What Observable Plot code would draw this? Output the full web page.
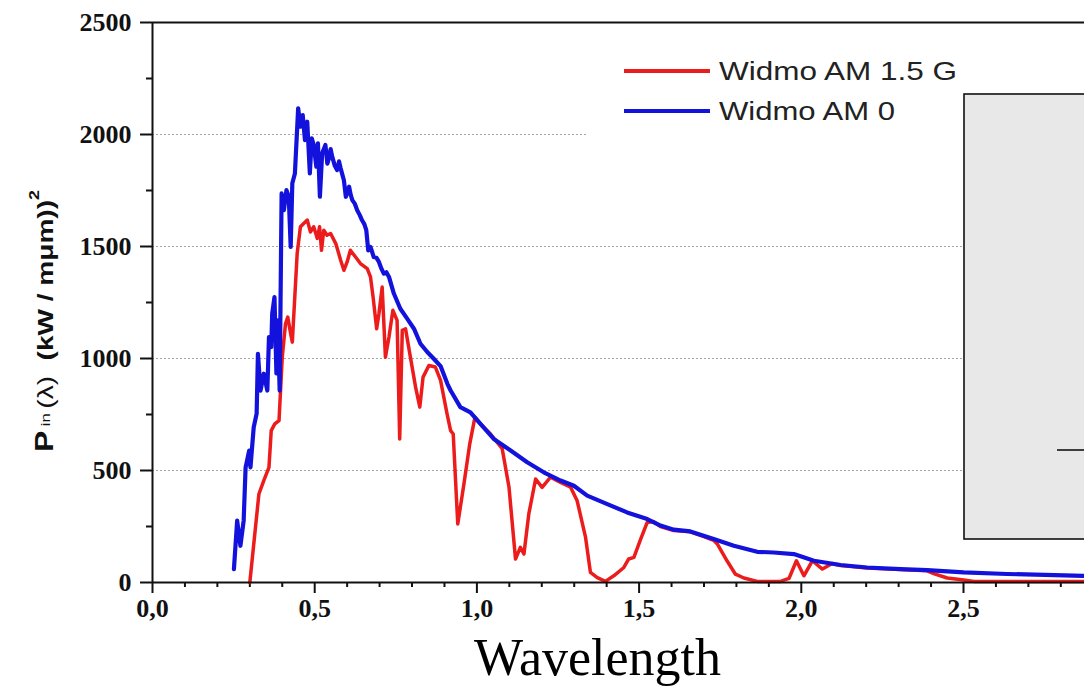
<!DOCTYPE html>
<html><head><meta charset="utf-8">
<script src="https://cdn.jsdelivr.net/npm/d3@7"></script>
<script src="https://cdn.jsdelivr.net/npm/@observablehq/plot@0.6"></script>
<style>body{margin:0;background:#fff} #chart{width:1084px;height:696px}</style>
</head><body><div id="chart"></div>
<script>
const seriesNames = ["Widmo AM 1.5 G", "Widmo AM 0"];
const seriesColors = ["#ec1c1c", "#1212dc"];

const am0Wavelength = [0.251,0.261,0.271,0.281,0.287,0.298,0.302,0.312,0.321,0.325,0.333,0.343,0.354,0.359,0.366,0.369,0.376,0.382,0.386,0.392,0.398,0.405,0.413,0.420,0.426,0.431,0.439,0.449,0.456,0.463,0.470,0.477,0.485,0.491,0.497,0.505,0.510,0.516,0.523,0.533,0.539,0.544,0.549,0.554,0.562,0.569,0.575,0.580,0.590,0.596,0.606,0.611,0.616,0.624,0.631,0.639,0.646,0.653,0.659,0.665,0.672,0.682,0.690,0.698,0.706,0.713,0.721,0.729,0.744,0.764,0.785,0.806,0.826,0.847,0.867,0.888,0.909,0.919,0.949,0.980,1.011,1.052,1.104,1.155,1.206,1.258,1.299,1.340,1.402,1.463,1.525,1.566,1.607,1.658,1.730,1.792,1.864,1.915,1.977,2.039,2.121,2.203,2.306,2.388,2.501,2.634,2.870];
const am0Power = [60,276,164,276,514,589,514,693,754,1021,857,932,857,1096,1051,1200,1274,933,1170,857,1737,1662,1752,1722,1498,1782,1826,2117,2035,2087,1975,2057,1826,1983,1953,1856,1961,1722,1916,1953,1870,1894,1935,1901,1860,1841,1880,1849,1796,1722,1767,1730,1707,1690,1662,1640,1617,1600,1573,1483,1498,1453,1450,1431,1400,1379,1385,1364,1290,1222,1178,1133,1066,1029,999,966,887,857,783,760,708,641,589,537,492,455,432,388,350,313,283,254,236,228,194,164,137,134,127,97,78,67,60,55,45,38,30];

const am15Wavelength = [0.300,0.328,0.343,0.359,0.366,0.377,0.390,0.400,0.410,0.417,0.424,0.431,0.446,0.456,0.466,0.477,0.487,0.497,0.508,0.515,0.521,0.528,0.538,0.549,0.565,0.580,0.590,0.600,0.610,0.626,0.641,0.662,0.672,0.680,0.691,0.698,0.708,0.718,0.729,0.741,0.754,0.762,0.770,0.780,0.795,0.811,0.824,0.834,0.852,0.872,0.888,0.908,0.919,0.927,0.941,0.960,0.978,0.994,1.011,1.042,1.078,1.099,1.119,1.134,1.145,1.160,1.181,1.201,1.227,1.258,1.289,1.309,1.335,1.350,1.371,1.396,1.422,1.453,1.468,1.484,1.504,1.525,1.545,1.566,1.607,1.658,1.700,1.730,1.741,1.771,1.797,1.823,1.864,1.936,1.962,1.985,2.008,2.034,2.065,2.095,2.121,2.203,2.306,2.388,2.408,2.450,2.501,2.532,2.870];
const am15Power = [0,395,455,514,678,708,723,1006,1155,1185,1126,1073,1469,1588,1603,1618,1565,1588,1536,1588,1483,1573,1550,1558,1513,1439,1394,1431,1483,1453,1424,1401,1364,1274,1133,1200,1319,1006,1096,1215,1170,641,1126,1133,1006,872,783,917,969,962,902,753,678,663,261,440,619,738,708,663,597,425,105,157,127,306,462,425,470,447,425,365,201,45,22,5,30,67,105,112,190,268,272,250,232,226,205,188,172,97,37,20,5,5,18,97,30,97,60,85,76,65,58,52,40,20,11,5,5];

const xTicks = [0, 0.5, 1.0, 1.5, 2.0, 2.5];
const xTickLabels = ["0,0", "0,5", "1,0", "1,5", "2,0", "2,5"];
const xMinorTicks = [0.1,0.2,0.3,0.4,0.6,0.7,0.8,0.9,1.1,1.2,1.3,1.4,1.6,1.7,1.8,1.9,2.1,2.2,2.3,2.4,2.6,2.7,2.8];
const yTicks = [0, 500, 1000, 1500, 2000, 2500];
const yMinorTicks = [250, 750, 1250, 1750, 2250];
const gridValues = [500, 1000, 1500, 2000];
const xLabel = "Wavelength";

const am15 = am15Wavelength.map((x, i) => ({x, y: am15Power[i]}));
const am0 = am0Wavelength.map((x, i) => ({x, y: am0Power[i]}));

const plot = Plot.plot({
  width: 1084, height: 696,
  marginLeft: 152, marginRight: 0, marginTop: 22, marginBottom: 114,
  style: {fontFamily: "Liberation Serif", fontSize: "26px", fontWeight: "bold", color: "#111", background: "#fff"},
  x: {domain: [0, 2.873]},
  y: {domain: [0, 2500]},
  marks: [
    Plot.ruleY(gridValues, {stroke: "#a8a8a8", strokeWidth: 1.2, strokeDasharray: "2,2"}),
    Plot.axisX({ticks: xTicks, tickFormat: (d, i) => xTickLabels[i], tickSize: 11, tickPadding: 5, strokeWidth: 2, label: null, stroke: "#111"}),
    Plot.axisX({ticks: xMinorTicks, tickFormat: () => "", tickSize: 5, strokeWidth: 2, label: null, stroke: "#111"}),
    Plot.axisY({ticks: yTicks, tickFormat: d => String(d), tickSize: 12, tickPadding: 9, strokeWidth: 2, label: null, stroke: "#111"}),
    Plot.axisY({ticks: yMinorTicks, tickFormat: () => "", tickSize: 6, strokeWidth: 2, label: null, stroke: "#111"}),
    Plot.line(am15, {x: "x", y: "y", stroke: seriesColors[0], strokeWidth: 3.5, strokeLinejoin: "round"}),
    Plot.line(am0, {x: "x", y: "y", stroke: seriesColors[1], strokeWidth: 4.2, strokeLinejoin: "round"}),
    Plot.ruleX([0], {stroke: "#111", strokeWidth: 2}),
    Plot.ruleY([0], {stroke: "#111", strokeWidth: 2}),
    Plot.ruleY([2500], {stroke: "#111", strokeWidth: 2}),
    Plot.text([xLabel], {frameAnchor: "bottom", dx: -21, dy: 92, fontSize: 52, fontWeight: "normal", fill: "#000", fontFamily: "Liberation Serif"})
  ]
});

const svg = d3.select(plot);

// legend (white background covering the grid)
const leg = svg.append("g").attr("text-anchor", "start");
leg.append("rect").attr("x", 586).attr("y", 40).attr("width", 378).attr("height", 110).attr("fill", "#fff");
seriesNames.forEach((name, i) => {
  const y = 71 + i * 40;
  leg.append("line").attr("x1", 624).attr("x2", 710).attr("y1", y).attr("y2", y)
    .attr("stroke", seriesColors[i]).attr("stroke-width", 4);
  leg.append("text").attr("x", 719).attr("y", y + 9).attr("text-anchor", "start")
    .attr("font-family", "Liberation Sans, Arial, sans-serif").attr("font-size", 26).attr("font-weight", "normal")
    .attr("fill", "#222").attr("textLength", i === 0 ? 238 : 176).attr("lengthAdjust", "spacingAndGlyphs")
    .text(name);
});

// grey inset box on the right (cropped)
const box = svg.append("g");
box.append("rect").attr("x", 964).attr("y", 94).attr("width", 140).attr("height", 445)
  .attr("fill", "#e8e8e8").attr("stroke", "#111").attr("stroke-width", 1.6);
box.append("line").attr("x1", 1057).attr("x2", 1084).attr("y1", 450).attr("y2", 450)
  .attr("stroke", "#111").attr("stroke-width", 1.6);

// y axis label
const yl = svg.append("text").attr("transform", "translate(53,452) rotate(-90)").attr("text-anchor", "start")
  .attr("font-family", "Liberation Sans, Arial, sans-serif").attr("fill", "#111")
  .attr("textLength", 262).attr("lengthAdjust", "spacingAndGlyphs");
yl.append("tspan").attr("font-size", 25).attr("font-weight", "bold").text("P");
yl.append("tspan").attr("font-size", 13).attr("font-weight", "normal").attr("dy", -3).text(" in ");
yl.append("tspan").attr("font-size", 22).attr("font-weight", "normal").attr("dy", 3).text("(λ)  ");
yl.append("tspan").attr("font-size", 22).attr("font-weight", "bold").text("(kW / mμm))");
yl.append("tspan").attr("font-size", 14).attr("font-weight", "bold").attr("dy", -14).text("2");

document.getElementById("chart").appendChild(plot);
</script>
</body></html>
